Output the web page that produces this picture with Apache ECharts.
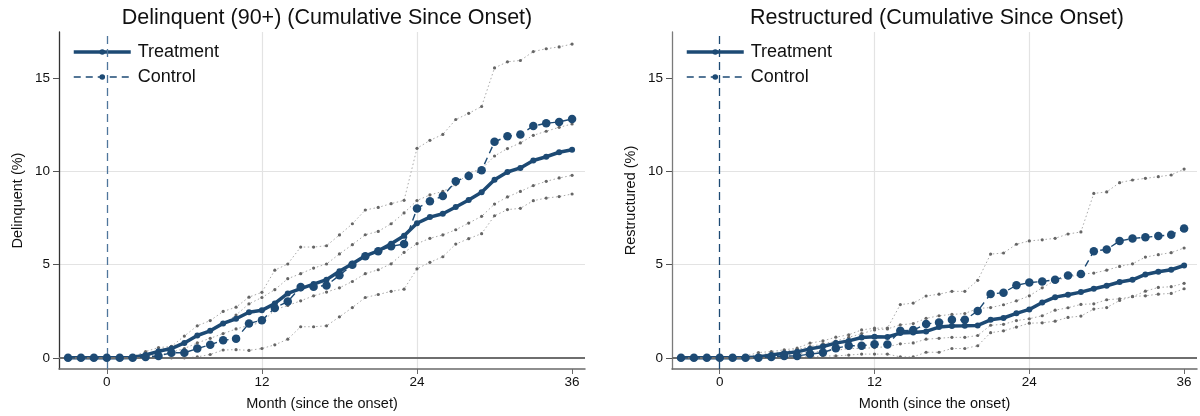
<!DOCTYPE html>
<html>
<head>
<meta charset="utf-8">
<script src="https://cdn.jsdelivr.net/npm/echarts@6/dist/echarts.min.js"></script>
<style>
html,body{margin:0;padding:0;background:#fff;}
#chart{width:1200px;height:416px;}
</style>
</head>
<body>
<div id="chart"></div>
<script>
// ---------- data ----------
const months = [];
for (let m = -3; m <= 36; m++) months.push(m);
const xTicks = [0, 12, 24, 36];
const yTicks = [0, 5, 10, 15];

const titles = ['Delinquent (90+) (Cumulative Since Onset)', 'Restructured (Cumulative Since Onset)'];
const yNames = ['Delinquent (%)', 'Restructured (%)'];
const xName = 'Month (since the onset)';

// Left panel: Delinquent
const delTreatment = [0,0,0,0,0,0.02,0.15,0.35,0.5,0.8,1.2,1.45,1.85,2.1,2.45,2.55,2.92,3.46,3.72,3.96,4.2,4.65,5.05,5.48,5.75,6.13,6.56,7.23,7.56,7.74,8.1,8.48,8.89,9.57,9.98,10.2,10.6,10.8,11.04,11.18];
const delControl = [0,0,0,0,0,0,0.05,0.1,0.27,0.27,0.5,0.7,0.95,1.02,1.85,2.02,2.68,3.02,3.8,3.82,3.89,4.43,5.0,5.45,5.72,5.99,6.11,8.02,8.41,8.69,9.48,9.77,10.07,11.6,11.9,12.0,12.45,12.6,12.67,12.83];
const delBandA = [0,0,0,0,0,0.07,0.34,0.55,0.61,1.17,1.72,2.0,2.49,2.72,3.26,3.52,4.71,5.04,5.95,5.95,6.02,6.6,7.2,7.94,8.08,8.28,8.46,11.25,11.68,12.0,12.8,13.13,13.5,15.57,15.9,15.97,16.45,16.6,16.7,16.85];
const delBandB = [0,0,0,0,0,0.05,0.2,0.4,0.6,0.85,1.2,1.5,1.8,2.3,2.9,3.24,3.66,4.25,4.52,4.82,5.04,5.58,6.08,6.61,6.79,7.2,7.78,8.45,8.75,8.94,9.3,9.93,10.14,10.84,11.24,11.54,11.95,12.17,12.38,12.56];
const delBandC = [0,0,0,0,0,0,0.05,0.15,0.3,0.5,0.8,1.05,1.3,1.55,1.75,1.9,2.58,2.81,3.06,3.33,3.53,3.76,4.1,4.52,4.73,5.05,5.66,6.13,6.42,6.6,6.88,7.24,7.6,8.26,8.64,8.94,9.25,9.48,9.66,9.8];
const delBandD = [0,0,0,0,0,0,0,0,0,0,0.05,0.18,0.42,0.44,0.4,0.5,0.7,1.0,1.67,1.67,1.72,2.2,2.7,3.24,3.4,3.57,3.69,4.78,5.13,5.43,6.11,6.4,6.67,7.63,7.96,8.03,8.44,8.58,8.66,8.8];

// Right panel: Restructured
const resTreatment = [0,0,0,0,0,0,0.05,0.15,0.25,0.32,0.48,0.61,0.79,0.91,1.09,1.13,1.12,1.33,1.36,1.42,1.65,1.71,1.72,1.74,2.04,2.14,2.39,2.6,2.97,3.26,3.39,3.53,3.71,3.87,4.07,4.19,4.48,4.62,4.73,4.96];
const resControl = [0,0,0,0,0,0,0,0.05,0.1,0.1,0.2,0.28,0.52,0.65,0.65,0.73,0.72,1.45,1.49,1.82,1.9,2.04,2.04,2.52,3.43,3.5,3.9,4.04,4.1,4.19,4.42,4.5,5.73,5.82,6.27,6.41,6.47,6.54,6.61,6.94];
const resBandA = [0,0,0,0,0,0.1,0.28,0.34,0.43,0.52,0.79,0.91,1.11,1.24,1.5,1.59,1.6,2.86,2.94,3.32,3.42,3.57,3.57,4.16,5.57,5.63,6.1,6.28,6.34,6.42,6.65,6.76,8.83,8.91,9.41,9.55,9.64,9.73,9.82,10.14];
const resBandB = [0,0,0,0,0,0.05,0.15,0.25,0.35,0.45,0.6,0.75,0.9,1.1,1.3,1.5,1.55,1.77,1.84,2.12,2.26,2.33,2.38,2.65,2.7,2.85,3.06,3.33,3.76,4.16,4.32,4.5,4.55,4.71,4.91,5.05,5.41,5.54,5.65,5.9];
const resBandC = [0,0,0,0,0,0,0.05,0.1,0.15,0.2,0.3,0.35,0.4,0.5,0.5,0.55,0.6,0.75,0.8,1.0,1.05,1.1,1.1,1.2,1.75,1.8,2.0,2.1,2.26,2.56,2.69,2.87,2.9,3.12,3.17,3.28,3.58,3.78,3.82,4.0];
const resBandD = [0,0,0,0,0,0,0,0,0.05,0.05,0.05,0.1,0.1,0.15,0.2,0.2,0.2,0.05,0.05,0.3,0.3,0.5,0.5,0.65,1.35,1.45,1.65,1.86,1.88,1.97,2.17,2.24,2.62,2.7,3.08,3.3,3.33,3.42,3.46,3.71];

// ---------- styles ----------
const NAVY = '#1d4a74';
const FONT = '"Liberation Sans", Arial, sans-serif';
const pairs = vals => months.map((m, i) => [m, vals[i]]);

const grids = [
  {left: 59, right: 615, top: 32, bottom: 47},
  {left: 672, right: 3, top: 32, bottom: 47}
];

function xAxis(idx) {
  return {
    type: 'value', gridIndex: idx, min: -3.7, max: 37,
    minInterval: 12, maxInterval: 12, splitNumber: 3,
    name: xName, nameLocation: 'middle', nameGap: 27,
    nameTextStyle: {fontFamily: FONT, fontSize: 14.5, color: '#111'},
    axisLine: {show: true, onZero: false, lineStyle: {color: '#6a6a6a', width: 1.5}},
    axisTick: {show: true, length: 5, lineStyle: {color: '#6a6a6a'}, customValues: xTicks},
    axisLabel: {fontFamily: FONT, fontSize: 13.5, color: '#111', margin: 6, customValues: xTicks},
    splitLine: {show: true, showMinLine: false, showMaxLine: false, lineStyle: {color: '#e3e3e3', width: 1.2}}
  };
}
function yAxis(idx) {
  return {
    type: 'value', gridIndex: idx, min: -0.6, max: 17.5,
    minInterval: 5, maxInterval: 5, splitNumber: 4,
    name: yNames[idx], nameLocation: 'middle', nameGap: 34,
    nameTextStyle: {fontFamily: FONT, fontSize: 14.5, color: '#111'},
    axisLine: {show: true, onZero: false, lineStyle: {color: idx === 0 ? '#333' : '#7a7a7a', width: 1.3}},
    axisTick: {show: true, length: 6, lineStyle: {color: '#555'}, customValues: yTicks},
    axisLabel: {fontFamily: FONT, fontSize: 13.5, color: '#111', margin: 9, customValues: yTicks},
    splitLine: {show: true, showMinLine: false, showMaxLine: false, lineStyle: {color: '#e3e3e3', width: 1.2}}
  };
}

function bandSeries(name, vals, idx, withMark) {
  const s = {
    name: name, type: 'line', xAxisIndex: idx, yAxisIndex: idx,
    data: pairs(vals), symbol: 'circle', symbolSize: 3.2,
    itemStyle: {color: '#666'},
    lineStyle: {color: '#a9a9a9', width: 1, type: [1.5, 2.5]},
    silent: true, z: 2, animation: false
  };
  if (withMark) {
    s.markLine = {
      silent: true, symbol: 'none', animation: false, label: {show: false},
      data: [
        {yAxis: 0, lineStyle: {color: '#6e6e6e', width: 1.8, type: 'solid'}},
        {xAxis: 0, lineStyle: {color: idx === 0 ? '#4f769c' : NAVY, width: 1.3, type: [8, 5]}}
      ]
    };
  }
  return s;
}
function treatSeries(vals, idx) {
  return {
    name: 'Treatment', type: 'line', xAxisIndex: idx, yAxisIndex: idx,
    data: pairs(vals), symbol: 'circle', symbolSize: 6,
    itemStyle: {color: NAVY}, lineStyle: {color: NAVY, width: 3.5},
    z: 4, animation: false
  };
}
function ctrlSeries(vals, idx) {
  return {
    name: 'Control', type: 'line', xAxisIndex: idx, yAxisIndex: idx,
    data: pairs(vals), symbol: 'circle', symbolSize: 8.5,
    itemStyle: {color: NAVY}, lineStyle: {color: NAVY, width: 1.4, type: [7, 5]},
    z: 5, animation: false
  };
}
function legend(idx) {
  return {
    data: ['Treatment', 'Control'], orient: 'vertical',
    left: idx === 0 ? 61 : 674, top: 40,
    padding: [3, 12, 13, 11], itemGap: 7, itemWidth: 57, itemHeight: 7,
    backgroundColor: '#fff', selectedMode: false,
    lineStyle: {width: 'inherit', type: 'inherit'},
    textStyle: {fontFamily: FONT, fontSize: 18, color: '#111', padding: [0, 0, 0, 2]}
  };
}

const chart = echarts.init(document.getElementById('chart'), null, {renderer: 'canvas'});
chart.setOption({
  animation: false,
  backgroundColor: '#fff',
  title: [
    {text: titles[0], left: 322, top: 2, textAlign: 'center', textStyle: {fontFamily: FONT, fontSize: 21.5, fontWeight: 'normal', color: '#111'}},
    {text: titles[1], left: 932, top: 2, textAlign: 'center', textStyle: {fontFamily: FONT, fontSize: 21.5, fontWeight: 'normal', color: '#111'}}
  ],
  legend: [legend(0), legend(1)],
  grid: grids,
  xAxis: [xAxis(0), xAxis(1)],
  yAxis: [yAxis(0), yAxis(1)],
  series: [
    bandSeries('dA', delBandA, 0, true),
    bandSeries('dB', delBandB, 0, false),
    bandSeries('dC', delBandC, 0, false),
    bandSeries('dD', delBandD, 0, false),
    treatSeries(delTreatment, 0),
    ctrlSeries(delControl, 0),
    bandSeries('rA', resBandA, 1, true),
    bandSeries('rB', resBandB, 1, false),
    bandSeries('rC', resBandC, 1, false),
    bandSeries('rD', resBandD, 1, false),
    treatSeries(resTreatment, 1),
    ctrlSeries(resControl, 1)
  ]
});
</script>
</body>
</html>
